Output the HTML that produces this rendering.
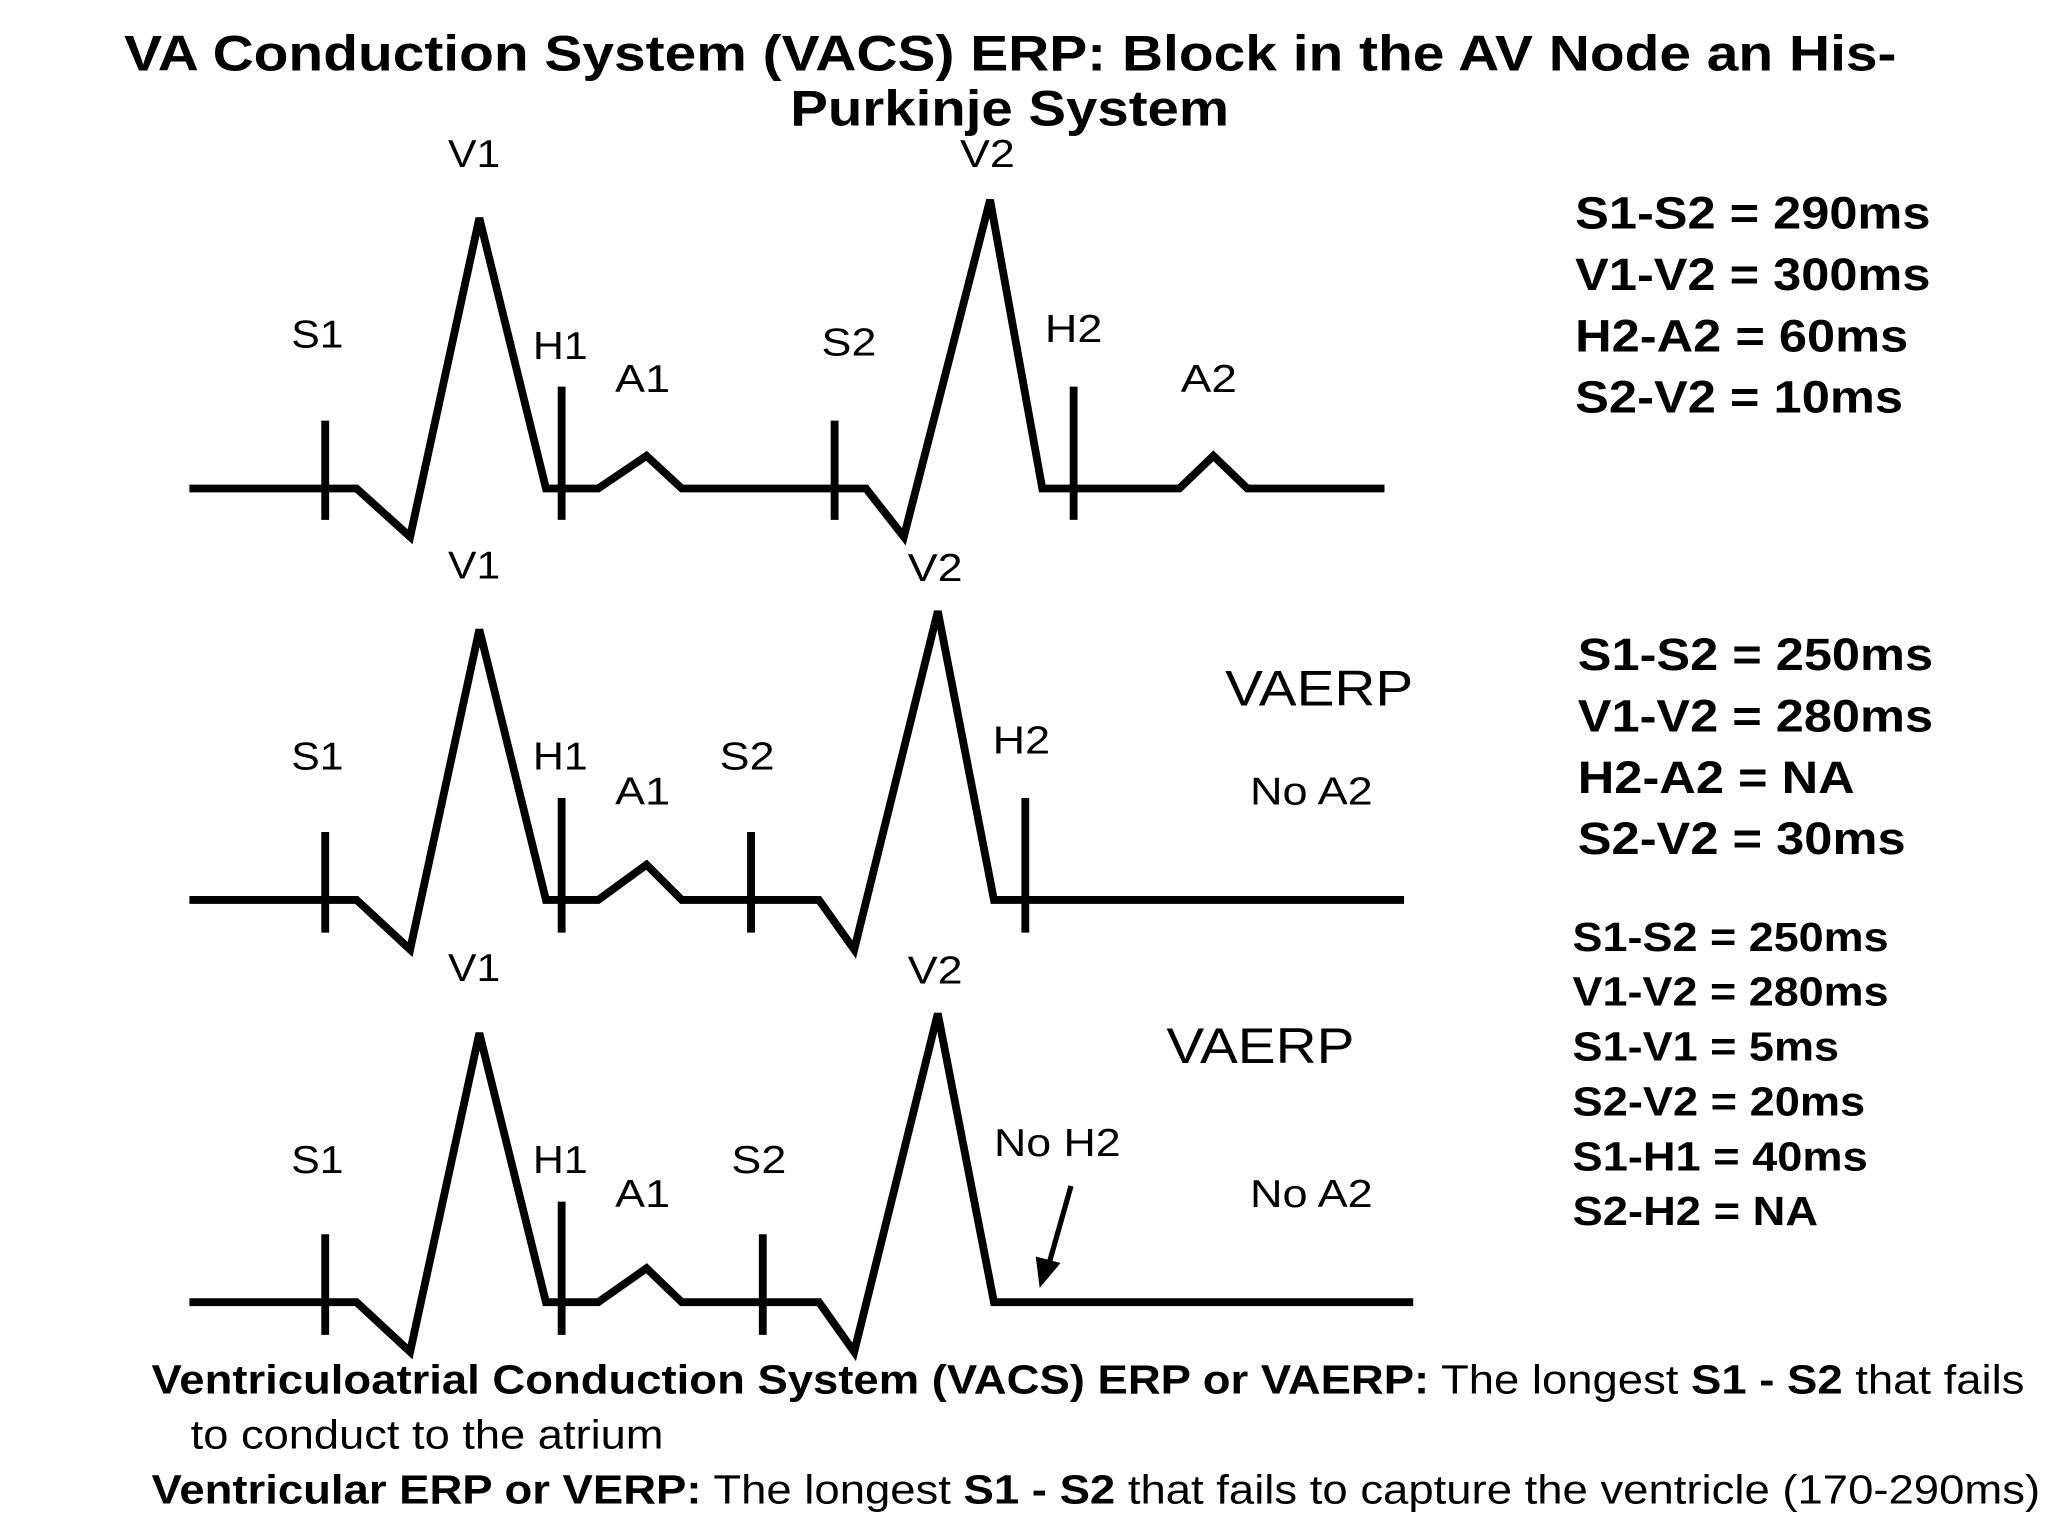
<!DOCTYPE html>
<html><head><meta charset="utf-8"><style>
html,body{margin:0;padding:0;background:#fff}
svg{display:block}
text{font-family:"Liberation Sans",Arial,sans-serif;fill:#000}
.l{font-size:30px}
</style></head><body>
<svg width="2048" height="1536" viewBox="0 0 1568 1176" xmlns="http://www.w3.org/2000/svg">
<g font-size="38">
<text x="95" y="54" font-weight="bold" textLength="1357" lengthAdjust="spacingAndGlyphs">VA Conduction System (VACS) ERP: Block in the AV Node an His-</text>
<text x="605" y="96" font-weight="bold" textLength="336" lengthAdjust="spacingAndGlyphs">Purkinje System</text>
</g>
<g fill="none" stroke="#000" stroke-width="6" stroke-linejoin="miter">
<polyline points="145,374 273,374 314,411 367,167 418,374 458,374 495,349 522,374 663,374 692,411 758,153 798,374 903,374 929,349 955,374 1060,374"/>
<line x1="249" y1="322" x2="249" y2="398"/>
<line x1="430" y1="296" x2="430" y2="398"/>
<line x1="639" y1="322" x2="639" y2="398"/>
<line x1="822" y1="296" x2="822" y2="398"/>
<polyline points="145,689 273,689 314,727 367,482 418,689 458,689 495,662 522,689 627,689 654,727 718,468 761,689 1075,689"/>
<line x1="249" y1="637" x2="249" y2="714"/>
<line x1="430" y1="611" x2="430" y2="714"/>
<line x1="575" y1="637" x2="575" y2="714"/>
<line x1="785" y1="611" x2="785" y2="714"/>
<polyline points="145,997 273,997 314,1035 367,791 418,997 458,997 495,971 522,997 627,997 654,1035 718,776 761,997 1082,997"/>
<line x1="249" y1="945" x2="249" y2="1022"/>
<line x1="430" y1="920" x2="430" y2="1022"/>
<line x1="584" y1="945" x2="584" y2="1022"/>
<line x1="820" y1="908" x2="803" y2="968" stroke-width="4"/>
</g>
<polygon points="796,986 793,962 812,967" fill="#000"/>
<g class="l">
<text x="343" y="128" textLength="40" lengthAdjust="spacingAndGlyphs">V1</text><text x="735" y="128" textLength="42" lengthAdjust="spacingAndGlyphs">V2</text>
<text x="223" y="266" textLength="40" lengthAdjust="spacingAndGlyphs">S1</text><text x="408" y="275" textLength="42" lengthAdjust="spacingAndGlyphs">H1</text><text x="471" y="300" textLength="42" lengthAdjust="spacingAndGlyphs">A1</text>
<text x="629" y="272" textLength="42" lengthAdjust="spacingAndGlyphs">S2</text><text x="800" y="262" textLength="44" lengthAdjust="spacingAndGlyphs">H2</text><text x="904" y="300" textLength="43" lengthAdjust="spacingAndGlyphs">A2</text>
</g>
<g class="l">
<text x="343" y="443" textLength="40" lengthAdjust="spacingAndGlyphs">V1</text><text x="695" y="445" textLength="42" lengthAdjust="spacingAndGlyphs">V2</text>
<text x="223" y="589" textLength="40" lengthAdjust="spacingAndGlyphs">S1</text><text x="408" y="589" textLength="42" lengthAdjust="spacingAndGlyphs">H1</text><text x="471" y="616" textLength="42" lengthAdjust="spacingAndGlyphs">A1</text>
<text x="551" y="589" textLength="42" lengthAdjust="spacingAndGlyphs">S2</text><text x="760" y="577" textLength="44" lengthAdjust="spacingAndGlyphs">H2</text><text x="957" y="616" textLength="94" lengthAdjust="spacingAndGlyphs">No A2</text>
<text x="938" y="540" font-size="38" textLength="144" lengthAdjust="spacingAndGlyphs">VAERP</text>
</g>
<g class="l">
<text x="343" y="751" textLength="40" lengthAdjust="spacingAndGlyphs">V1</text><text x="695" y="753" textLength="42" lengthAdjust="spacingAndGlyphs">V2</text>
<text x="223" y="898" textLength="40" lengthAdjust="spacingAndGlyphs">S1</text><text x="408" y="898" textLength="42" lengthAdjust="spacingAndGlyphs">H1</text><text x="471" y="924" textLength="42" lengthAdjust="spacingAndGlyphs">A1</text>
<text x="560" y="898" textLength="42" lengthAdjust="spacingAndGlyphs">S2</text><text x="761" y="885" textLength="97" lengthAdjust="spacingAndGlyphs">No H2</text><text x="957" y="924" textLength="94" lengthAdjust="spacingAndGlyphs">No A2</text>
<text x="893" y="814" font-size="38" textLength="144" lengthAdjust="spacingAndGlyphs">VAERP</text>
</g>
<g font-size="35">
<text x="1206" y="175" font-weight="bold" textLength="272" lengthAdjust="spacingAndGlyphs">S1-S2 = 290ms</text>
<text x="1206" y="222" font-weight="bold" textLength="272" lengthAdjust="spacingAndGlyphs">V1-V2 = 300ms</text>
<text x="1206" y="269" font-weight="bold" textLength="255" lengthAdjust="spacingAndGlyphs">H2-A2 = 60ms</text>
<text x="1206" y="316" font-weight="bold" textLength="251" lengthAdjust="spacingAndGlyphs">S2-V2 = 10ms</text>
</g>
<g font-size="35">
<text x="1208" y="513" font-weight="bold" textLength="272" lengthAdjust="spacingAndGlyphs">S1-S2 = 250ms</text>
<text x="1208" y="560" font-weight="bold" textLength="272" lengthAdjust="spacingAndGlyphs">V1-V2 = 280ms</text>
<text x="1208" y="607" font-weight="bold" textLength="212" lengthAdjust="spacingAndGlyphs">H2-A2 = NA</text>
<text x="1208" y="654" font-weight="bold" textLength="251" lengthAdjust="spacingAndGlyphs">S2-V2 = 30ms</text>
</g>
<g font-size="31">
<text x="1204" y="728" font-weight="bold" textLength="242" lengthAdjust="spacingAndGlyphs">S1-S2 = 250ms</text>
<text x="1204" y="770" font-weight="bold" textLength="242" lengthAdjust="spacingAndGlyphs">V1-V2 = 280ms</text>
<text x="1204" y="812" font-weight="bold" textLength="204" lengthAdjust="spacingAndGlyphs">S1-V1 = 5ms</text>
<text x="1204" y="854" font-weight="bold" textLength="224" lengthAdjust="spacingAndGlyphs">S2-V2 = 20ms</text>
<text x="1204" y="896" font-weight="bold" textLength="226" lengthAdjust="spacingAndGlyphs">S1-H1 = 40ms</text>
<text x="1204" y="938" font-weight="bold" textLength="188" lengthAdjust="spacingAndGlyphs">S2-H2 = NA</text>
</g>
<g font-size="31">
<text x="116" y="1067" textLength="1434" lengthAdjust="spacingAndGlyphs"><tspan font-weight="bold">Ventriculoatrial Conduction System (VACS) ERP or VAERP:</tspan> The longest <tspan font-weight="bold">S1 - S2</tspan> that fails</text>
<text x="146" y="1109" textLength="362" lengthAdjust="spacingAndGlyphs">to conduct to the atrium</text>
<text x="116" y="1151" textLength="1446" lengthAdjust="spacingAndGlyphs"><tspan font-weight="bold">Ventricular ERP or VERP:</tspan> The longest <tspan font-weight="bold">S1 - S2</tspan> that fails to capture the ventricle (170-290ms)</text>
</g>
</svg>
</body></html>
